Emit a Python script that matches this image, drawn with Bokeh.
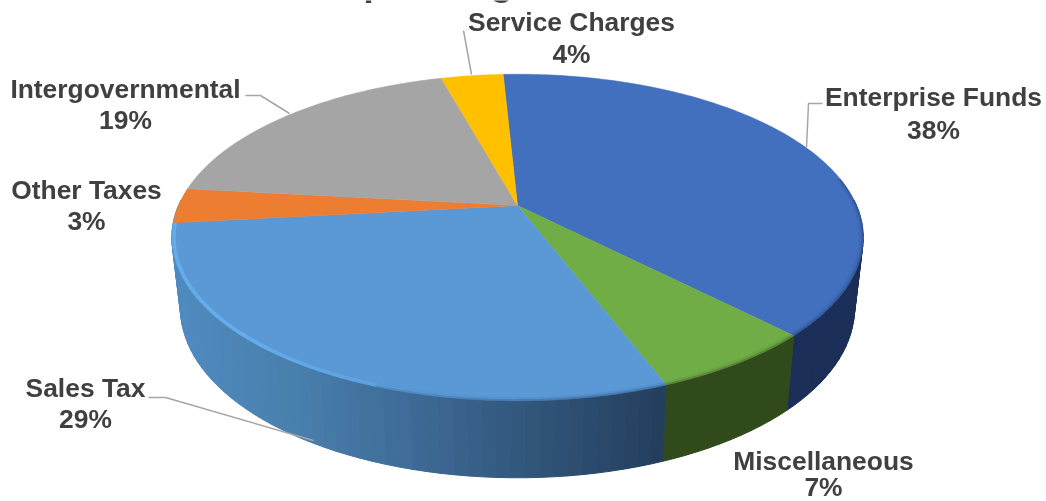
import math
from bokeh.plotting import figure
from bokeh.embed import file_html
from bokeh.resources import INLINE
from bokeh.core.properties import value

# chart data (clockwise from the top of the pie)
categories = ["Enterprise Funds", "Miscellaneous", "Sales Tax", "Other Taxes", "Intergovernmental", "Service Charges"]
shares = [38.44, 6.53, 29.11, 3.45, 18.97, 3.5]
percent_labels = ["38%", "7%", "29%", "3%", "19%", "4%"]
face_colors = ["#4270bf", "#70ad47", "#5a98d6", "#ed7d31", "#a5a5a5", "#ffc000"]
title_text = "Operating Revenues"

# drawing geometry
W, H = 1046, 501
CX, CY = 517, 205
F, G, K = 339, 157, 0.196
START_DEG = -2.9
LOWER_SCALE = 0.975
DEPTH, DEPTH_FRONT = 69, 8
TEXT = "#404040"
FONT = "Liberation Sans"


def proj(deg, r=1.0):
    t = math.radians(deg)
    a, b = r * math.sin(t), -r * math.cos(t)
    w = 1 - K * b
    return CX + F * a / w, CY + G * b / w


def lower(deg):
    x, y = proj(deg)
    b = -math.cos(math.radians(deg))
    return CX + LOWER_SCALE * (x - CX), y + DEPTH + DEPTH_FRONT * max(b, 0)


def arc(d0, d1, r=1.0, step=1.0):
    n = max(2, int(abs(d1 - d0) / step) + 1)
    return [proj(d0 + (d1 - d0) * i / (n - 1), r) for i in range(n)]


def mix(c0, c1, t):
    a = [int(c0[i:i + 2], 16) for i in (1, 3, 5)]
    b = [int(c1[i:i + 2], 16) for i in (1, 3, 5)]
    return "#%02x%02x%02x" % tuple(round(u + (v - u) * t) for u, v in zip(a, b))


def ramp(x, stops):
    for (x0, c0), (x1, c1) in zip(stops, stops[1:]):
        if x <= x1:
            return mix(c0, c1, max(0, (x - x0) / (x1 - x0)))
    return stops[-1][1]


edges = [START_DEG]
for s in shares:
    edges.append(edges[-1] + s * 3.6)

p = figure(width=W, height=H, x_range=(0, W), y_range=(H, 0), toolbar_location=None,
           output_backend="svg", x_axis_type=None, y_axis_type=None, min_border=0,
           outline_line_color=None, background_fill_color="white", border_fill_color="white")
p.grid.visible = False
p.styles = {"position": "fixed", "left": "0px", "top": "0px"}

# walls, drawn as narrow strips so the shade can change along the rim
sales_stops = [(175, "#4f8ac0"), (300, "#487eab"), (400, "#3f6c98"), (520, "#33577d"), (665, "#233e5d")]
wall_xs, wall_ys, wall_cs = [], [], []
for deg0, deg1, kind in [(88, edges[1], "ent"), (edges[1], edges[2], "misc"), (edges[2], 272, "sales")]:
    d = deg0
    while d < deg1 - 1e-6:
        e = min(d + 2, deg1)
        t0, t1 = proj(d), proj(e)
        b0, b1 = lower(d), lower(e)
        wall_xs.append([t0[0], t1[0], b1[0], b0[0]])
        wall_ys.append([t0[1], t1[1], b1[1], b0[1]])
        mx = (t0[0] + t1[0]) / 2
        wall_cs.append({"ent": "#1a2e58", "misc": "#304a1b"}.get(kind) or ramp(mx, sales_stops))
        d = e
p.patches(wall_xs, wall_ys, fill_color=wall_cs, line_color=wall_cs, line_width=1)

# top face
for i, c in enumerate(face_colors):
    pts = [(CX, CY)] + arc(edges[i], edges[i + 1])
    p.patch([q[0] for q in pts], [q[1] for q in pts], fill_color=c, line_color=c, line_width=0.5)

# soft shading along the rim
shade = [("#1f3868", 80, edges[1]), ("#3c5a26", edges[1], edges[2]), ("#2d5278", edges[2], 200)]
for color, d0, d1 in shade:
    for r, width, alpha in [(0.998, 2, 0.35), (0.992, 3, 0.12)]:
        pts = arc(d0, d1, r)
        p.line([q[0] for q in pts], [q[1] for q in pts], line_color=color, line_width=width, line_alpha=alpha)
# light edge of the Sales Tax slice, strongest towards the left
rim_xs, rim_ys, rim_alpha = [], [], []
d = 180.0
while d < edges[3]:
    e = min(d + 1.0, edges[3])
    pts = arc(d, e, 0.994)
    rim_xs.append([q[0] for q in pts])
    rim_ys.append([q[1] for q in pts])
    rim_alpha.append(min(0.85, max(0.08, (d - 180) / 50)))
    d = e
p.multi_line(rim_xs, rim_ys, line_color="#66b2f0", line_width=3.5, line_alpha=rim_alpha)

# leader lines
leaders = [([463, 471], [30, 74]), ([822, 808, 806], [103, 103, 147]),
           ([245, 260, 289], [95, 95, 113]), ([148, 165, 313], [397, 397, 440])]
for xs, ys in leaders:
    p.line(xs, ys, line_color="#a6a6a6", line_width=1.5)

# labels
label_pos = {"Enterprise Funds": (933, 96, 129), "Miscellaneous": (823, 460, 486),
             "Sales Tax": (85, 387, 418), "Other Taxes": (86, 189, 220),
             "Intergovernmental": (125, 88, 119), "Service Charges": (571, 21, 53)}
for name, pct in zip(categories, percent_labels):
    x, y0, y1 = label_pos[name]
    p.text([x, x], [y0, y1], text=[name, pct], text_font=value(FONT), text_font_style="bold",
           text_font_size="26.4px", text_color=TEXT, text_align="center", text_baseline="middle")

# title, cut off at the top of the picture in the reference
p.text([518], [-19], text=[title_text], text_font=value(FONT), text_font_style="bold",
       text_font_size="38px", text_color=TEXT, text_align="center", text_baseline="middle")

open("out.html", "w").write(file_html(p, INLINE))
